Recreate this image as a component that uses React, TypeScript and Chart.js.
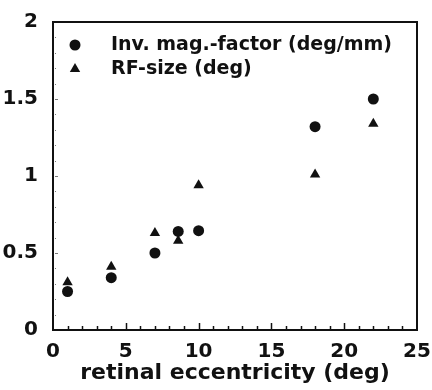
import React, { useEffect, useRef } from "react";
import { Chart, registerables } from "chart.js";

Chart.register(...registerables);

const eccentricity = [1, 4, 7, 8.6, 10, 18, 22];
const invMagFactor = [0.25, 0.34, 0.5, 0.64, 0.645, 1.32, 1.5];
const rfSize = [0.31, 0.41, 0.63, 0.58, 0.94, 1.01, 1.34];
const seriesLabels = ["Inv. mag.-factor (deg/mm)", "RF-size (deg)"];
const xTickValues = [0, 5, 10, 15, 20, 25];
const yTickValues = [0, 0.5, 1, 1.5, 2];
const xTitle = "retinal eccentricity (deg)";

const INK = "#111111";
const FONT = "'DejaVu Sans', Arial, Helvetica, sans-serif";

function drawMarker(ctx: CanvasRenderingContext2D, style: string, x: number, y: number, r: number) {
  ctx.beginPath();
  if (style === "circle") {
    ctx.arc(x, y, r, 0, Math.PI * 2);
  } else {
    const h = r * 1.5;
    const w = r * Math.sqrt(3);
    ctx.moveTo(x, y - r);
    ctx.lineTo(x + w / 2, y - r + h);
    ctx.lineTo(x - w / 2, y - r + h);
    ctx.closePath();
  }
  ctx.fill();
}

const framePlugin = {
  id: "frame",
  afterDatasetsDraw(chart: any) {
    const { ctx, chartArea: a, scales } = chart;
    ctx.save();
    ctx.strokeStyle = INK;
    ctx.lineWidth = 2;
    ctx.strokeRect(a.left, a.top, a.right - a.left, a.bottom - a.top);
    // inward x ticks
    const xs = scales.x;
    ctx.lineWidth = 1.5;
    for (let v = 1; v < 25; v++) {
      const px = Math.round(xs.getPixelForValue(v)) + 0.5;
      const len = v % 5 === 0 ? 7 : 4;
      ctx.beginPath();
      ctx.moveTo(px, a.bottom);
      ctx.lineTo(px, a.bottom - len);
      ctx.stroke();
    }
    // faint y ticks
    const ys = scales.y;
    ctx.strokeStyle = "#777";
    ctx.lineWidth = 1;
    for (let i = 1; i < 20; i++) {
      const py = Math.round(ys.getPixelForValue(i / 10)) + 0.5;
      ctx.beginPath();
      ctx.moveTo(a.left + 2, py);
      ctx.lineTo(a.left + (i % 5 === 0 ? 5 : 3), py);
      ctx.stroke();
    }
    // legend
    ctx.fillStyle = INK;
    ctx.font = `bold 19px ${FONT}`;
    ctx.textBaseline = "middle";
    ctx.textAlign = "left";
    const rows = [
      { style: "circle", r: 5.5, y: a.top + 23 },
      { style: "triangle", r: 6, y: a.top + 47 },
    ];
    rows.forEach((row, i) => {
      ctx.fillStyle = INK;
      drawMarker(ctx, row.style, a.left + 22, row.y, row.r);
      ctx.fillText(seriesLabels[i], a.left + 58, row.y);
    });
    ctx.restore();
  },
};

export default function App() {
  const ref = useRef<HTMLCanvasElement>(null);
  useEffect(() => {
    if (!ref.current) return;
    const chart = new Chart(ref.current, {
      type: "scatter",
      data: {
        datasets: [
          {
            label: seriesLabels[0],
            data: eccentricity.map((x, i) => ({ x, y: invMagFactor[i] })),
            pointStyle: "circle",
            pointRadius: 5.5,
            backgroundColor: INK,
            borderColor: INK,
            borderWidth: 0,
          },
          {
            label: seriesLabels[1],
            data: eccentricity.map((x, i) => ({ x, y: rfSize[i] })),
            pointStyle: "triangle",
            pointRadius: 6,
            backgroundColor: INK,
            borderColor: INK,
            borderWidth: 0,
          },
        ],
      },
      options: {
        animation: false,
        responsive: false,
        maintainAspectRatio: false,
        layout: { padding: { top: 22, right: 15, left: 0, bottom: 0 } },
        plugins: { legend: { display: false }, tooltip: { enabled: false } },
        scales: {
          x: {
            type: "linear",
            min: 0,
            max: 25,
            afterFit(s: any) {
              s.height = 60;
              s.paddingLeft = 0;
              s.paddingRight = 0;
            },
            afterBuildTicks(s: any) {
              s.ticks = xTickValues.map((v) => ({ value: v }));
            },
            grid: { display: false, drawTicks: false },
            border: { display: false },
            ticks: {
              padding: 10,
              color: INK,
              font: { family: FONT, size: 20, weight: "bold" },
              maxRotation: 0,
            },
            title: {
              display: true,
              text: xTitle,
              color: INK,
              font: { family: FONT, size: 22, weight: "bold" },
              padding: { top: 0, bottom: 4 },
            },
          },
          y: {
            type: "linear",
            min: 0,
            max: 2,
            afterFit(s: any) {
              s.width = 53;
              s.paddingTop = 0;
              s.paddingBottom = 0;
            },
            afterBuildTicks(s: any) {
              s.ticks = yTickValues.map((v) => ({ value: v }));
            },
            grid: { display: false, drawTicks: false },
            border: { display: false },
            ticks: {
              padding: 15,
              color: INK,
              font: { family: FONT, size: 20, weight: "bold" },
              callback: (v: any) => String(v),
            },
          },
        },
      },
      plugins: [framePlugin],
    } as any);
    return () => chart.destroy();
  }, []);
  return (
    <div style={{ position: "fixed", left: 0, top: 0, width: 432, height: 390, background: "#fff" }}>
      <canvas ref={ref} width={432} height={390} style={{ width: 432, height: 390 }} />
    </div>
  );
}
